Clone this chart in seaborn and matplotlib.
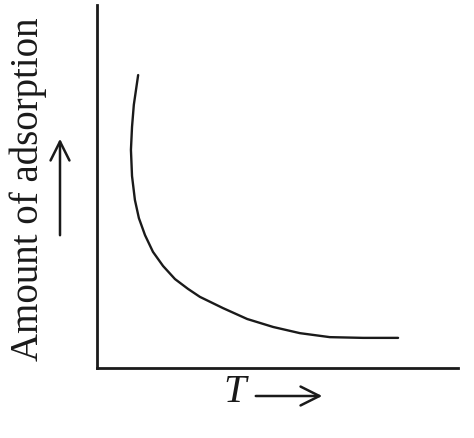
import numpy as np
import pandas as pd
import seaborn as sns
from matplotlib import pyplot as plt

# curve (axis units 0-100 on both axes)
temperature = [11.4, 10.2, 9.7, 9.4, 9.7, 10.5, 11.6, 13.3, 15.5, 18.3,
               21.6, 25.2, 28.5, 34.9, 41.6, 48.8, 56.2, 64.5, 73.7, 83.4]
adsorption = [80.7, 72.5, 66.4, 60.1, 52.9, 46.3, 41.3, 36.6, 32.0, 28.1,
              24.5, 21.8, 19.6, 16.5, 13.5, 11.3, 9.6, 8.5, 8.3, 8.3]

df = pd.DataFrame({"T": temperature, "Amount": adsorption})

sns.set_style("white")
plt.rcParams["font.family"] = ["Liberation Serif", "DejaVu Serif"]

W, H = 474, 438
fig = plt.figure(figsize=(W / 100, H / 100), dpi=100)
ax = fig.add_axes([97 / W, 1 - 368 / H, (458 - 97) / W, (368 - 5) / H])

sns.lineplot(data=df, x="T", y="Amount", sort=False, estimator=None,
             color="#1a1a1a", linewidth=1.7, ax=ax,
             solid_joinstyle="round", solid_capstyle="round")

ax.set_xlim(0, 100)
ax.set_ylim(0, 100)
ax.set_xticks([])
ax.set_yticks([])
ax.set_xlabel("")
ax.set_ylabel("")
for side in ["top", "right"]:
    ax.spines[side].set_visible(False)
for side in ["left", "bottom"]:
    ax.spines[side].set_color("#1a1a1a")
    ax.spines[side].set_linewidth(2.0)


def fx(px):
    return px / W


def fy(py):
    return 1 - py / H


arrow_style = dict(arrowstyle="->", lw=1.8, color="#1a1a1a",
                   mutation_scale=34)

# labels with their arrows
fig.text(fx(28), fy(189), "Amount of adsorption", rotation=90,
         ha="center", va="center", fontsize=28, color="#1a1a1a")
ax.annotate("", xy=(fx(60), fy(136)), xytext=(fx(60), fy(238)),
            xycoords="figure fraction", textcoords="figure fraction",
            arrowprops=arrow_style)

fig.text(fx(235), fy(393), "T", style="italic", ha="center", va="center",
         fontsize=29, color="#1a1a1a")
ax.annotate("", xy=(fx(325), fy(396)), xytext=(fx(253), fy(396)),
            xycoords="figure fraction", textcoords="figure fraction",
            arrowprops=arrow_style)

fig.savefig("out.png", dpi=100)
